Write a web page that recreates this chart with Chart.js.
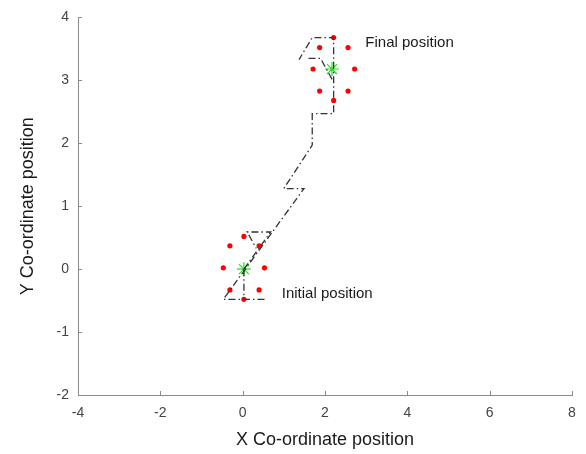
<!DOCTYPE html>
<html>
<head>
<meta charset="utf-8">
<script src="https://cdn.jsdelivr.net/npm/chart.js@4/dist/chart.umd.min.js"></script>
<style>
  html, body { margin: 0; padding: 0; background: #fff; }
  #wrap { width: 586px; height: 454px; }
</style>
</head>
<body>
<div id="wrap"><canvas id="trajChart"></canvas></div>
<script>
// trajectory (dash-dot line)
const pathX = [0.53, -0.47, 1.49, 1.00, 1.69, 1.69, 2.21, 2.21, 1.69, 1.37];
const pathY = [-0.48, -0.48, 1.28, 1.28, 1.97, 2.47, 2.47, 3.68, 3.68, 3.33];

// heading marks near start and end
const startStemX = [0.03, 0.03];
const startStemY = [0.00, -0.48];
const startHeadX = [0.03, 0.68, 0.11, 0.33];
const startHeadY = [0.00, 0.59, 0.59, 0.33];
const endHeadX = [1.60, 1.89, 2.21];
const endHeadY = [3.35, 3.35, 2.97];

// red sensor dots
const initDotsX = [0.03, -0.31, 0.40, -0.47, 0.53, -0.31, 0.40, 0.03];
const initDotsY = [0.52, 0.37, 0.37, 0.02, 0.02, -0.33, -0.33, -0.48];
const finalDotsX = [2.21, 1.87, 2.56, 1.71, 2.72, 1.87, 2.56, 2.21];
const finalDotsY = [3.68, 3.52, 3.52, 3.18, 3.18, 2.83, 2.83, 2.68];

// centres (green stars)
const centreX = [0.03, 2.17];
const centreY = [0.00, 3.18];

// annotations
const noteText = ['Final position', 'Initial position'];
const noteX = [2.98, 0.95];
const noteY = [3.59, -0.40];

const xTicks = [-4, -2, 0, 2, 4, 6, 8];
const yTicks = [-2, -1, 0, 1, 2, 3, 4];

const pts = (xs, ys) => xs.map((v, i) => ({ x: v, y: ys[i] }));

const dashLine = data => ({
    data: data,
    showLine: true,
    borderColor: '#333',
    borderWidth: 1.3,
    borderDash: [7, 3, 1.5, 3],
    pointRadius: 0,
    fill: false,
    tension: 0
});

const insideTicks = {
    id: 'insideTicks',
    afterDraw(chart) {
        const { ctx, chartArea: a, scales: { x, y } } = chart;
        ctx.save();
        ctx.strokeStyle = '#8a8a8a';
        ctx.lineWidth = 1;
        ctx.beginPath();
        xTicks.forEach(v => {
            const px = Math.round(x.getPixelForValue(v)) + 0.5;
            ctx.moveTo(px, a.bottom);
            ctx.lineTo(px, a.bottom - 4);
        });
        yTicks.forEach(v => {
            const py = Math.round(y.getPixelForValue(v)) + 0.5;
            ctx.moveTo(a.left, py);
            ctx.lineTo(a.left + 4, py);
        });
        ctx.stroke();

        ctx.fillStyle = '#1a1a1a';
        ctx.font = '15px "Liberation Sans", Arial, sans-serif';
        ctx.textAlign = 'left';
        ctx.textBaseline = 'middle';
        noteText.forEach((t, i) => {
            ctx.fillText(t, x.getPixelForValue(noteX[i]), y.getPixelForValue(noteY[i]));
        });
        ctx.restore();
    }
};

new Chart(document.getElementById('trajChart'), {
    type: 'scatter',
    data: {
        datasets: [
            dashLine(pts(pathX, pathY)),
            dashLine(pts(startStemX, startStemY)),
            dashLine(pts(startHeadX, startHeadY)),
            dashLine(pts(endHeadX, endHeadY)),
            {
                data: pts(initDotsX, initDotsY).concat(pts(finalDotsX, finalDotsY)),
                pointRadius: 2.6,
                pointBackgroundColor: '#ff0000',
                pointBorderColor: '#ff0000',
                pointBorderWidth: 0
            },
            {
                data: pts(centreX, centreY),
                pointStyle: 'star',
                pointRadius: 7,
                pointBorderColor: '#22dd22',
                pointBorderWidth: 1.2
            }
        ]
    },
    plugins: [insideTicks],
    options: {
        responsive: true,
        maintainAspectRatio: false,
        animation: false,
        layout: { padding: { left: 0, top: 12, right: 14, bottom: 0 } },
        plugins: {
            legend: { display: false },
            tooltip: { enabled: false }
        },
        scales: {
            x: {
                type: 'linear',
                min: -4,
                max: 8,
                afterBuildTicks: s => { s.ticks = xTicks.map(v => ({ value: v })); },
                afterFit: s => { s.height = 59; },
                grid: { drawOnChartArea: false, drawTicks: false },
                border: { display: true, color: '#8a8a8a', width: 1 },
                ticks: {
                    padding: 10,
                    color: '#444',
                    font: { family: '"Liberation Sans", Arial, sans-serif', size: 14 }
                },
                title: {
                    display: true,
                    text: 'X Co-ordinate position',
                    color: '#1a1a1a',
                    padding: { top: 2, bottom: 3 },
                    font: { family: '"Liberation Sans", Arial, sans-serif', size: 18 }
                }
            },
            y: {
                type: 'linear',
                min: -2,
                max: 4,
                afterBuildTicks: s => { s.ticks = yTicks.map(v => ({ value: v })); },
                afterFit: s => { s.width = 78; },
                grid: { drawOnChartArea: false, drawTicks: false },
                border: { display: true, color: '#8a8a8a', width: 1 },
                ticks: {
                    padding: 9,
                    color: '#444',
                    font: { family: '"Liberation Sans", Arial, sans-serif', size: 14 }
                },
                title: {
                    display: true,
                    text: 'Y Co-ordinate position',
                    color: '#1a1a1a',
                    padding: { top: 17, bottom: 0 },
                    font: { family: '"Liberation Sans", Arial, sans-serif', size: 18 }
                }
            }
        }
    }
});
</script>
</body>
</html>
